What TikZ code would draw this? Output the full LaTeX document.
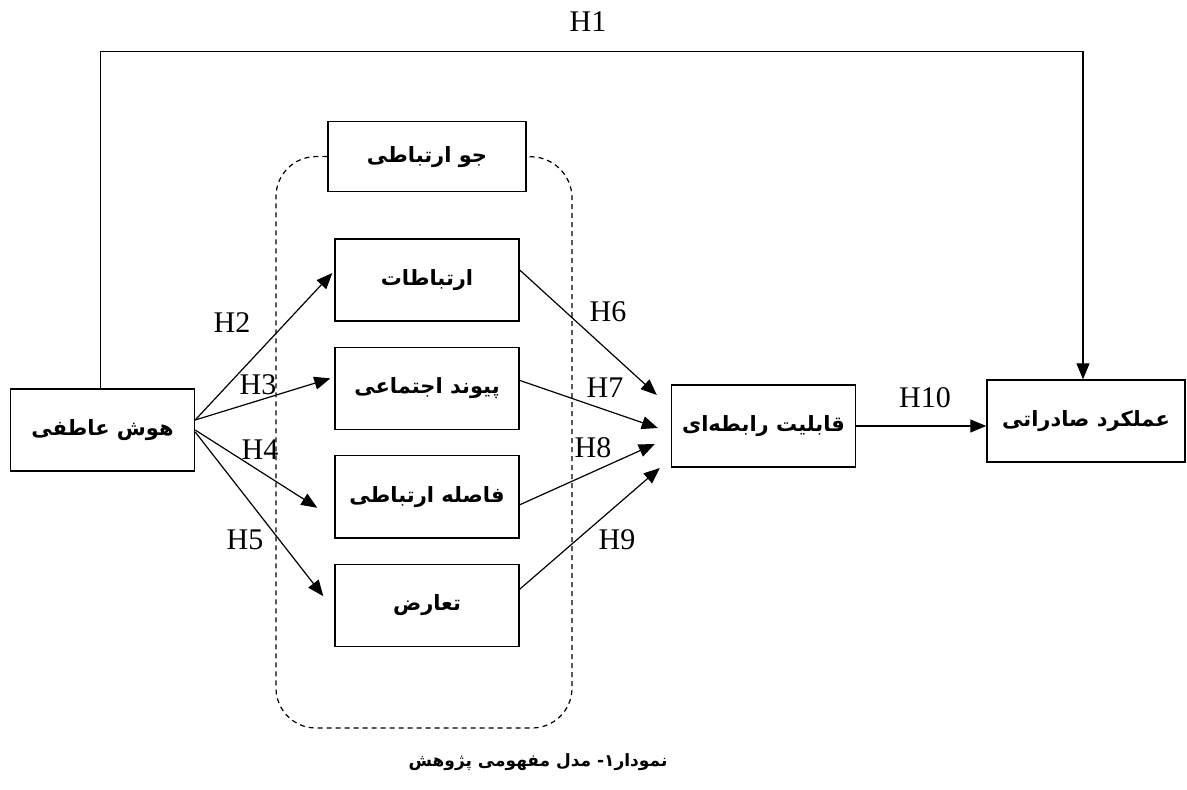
\documentclass[tikz,border=0pt]{standalone}
\usepackage{fontspec}
\setmainfont{Liberation Serif}
\newfontfamily\farsi[Script=Arabic]{DejaVu Sans}
\TeXXeTstate=1
\usetikzlibrary{positioning,arrows.meta}
\newcommand{\fa}[1]{{\farsi\bfseries\beginR #1\endR}}

\begin{document}
\begin{tikzpicture}[x=0.5pt, y=-0.5pt, node distance=12.5pt,
  box/.style={draw, line width=0.7pt, align=center, inner sep=0pt, minimum width=92pt, minimum height=41pt, font=\fontsize{10.5}{13}\selectfont},
  arrow/.style={-{Triangle[length=8pt,width=6.5pt]}, line width=0.6pt},
  hyp/.style={font=\fontsize{15}{18}\selectfont},
  frame/.style={dash pattern=on 2.5pt off 2pt, line width=0.6pt, rounded corners=20pt}]
\useasboundingbox (0,0) rectangle (1187,790);
\node[box](emo) at (102.5,430){\fa{هوش عاطفی}};
\node[box](comm) at (427,280){\fa{ارتباطات}};
\node[box,below=of comm](bond){\fa{پیوند اجتماعی}};
\node[box,below=of bond](dist){\fa{فاصله ارتباطی}};
\node[box,below=of dist](confl){\fa{تعارض}};
\node[box,above=23pt of comm,minimum width=99pt,minimum height=35pt](clim){\fa{جو ارتباطی}};
\node[box](rel) at (763.5,426){\fa{قابلیت رابطه‌ای}};
\node[box,minimum width=99pt](perf) at (1086,421){\fa{عملکرد صادراتی}};
% dashed frame of the communication climate
\draw[frame] (clim.west) -| (276,728) -| (572,158) -- (clim.east);
% H1
\draw[arrow] ([xshift=-1pt]emo.north) -- ++(0,-337) -| ([xshift=-1.5pt]perf.north);
\node[hyp](h1) at (588,22){H1};
% H2 - H5
\draw[arrow] ([yshift=5pt]emo.east) -- ([xshift=-1pt,yshift=3.5pt]comm.west);
\draw[arrow] ([yshift=5pt]emo.east) -- ([xshift=-2pt,yshift=5pt]bond.west);
\draw[arrow] ([yshift=0pt]emo.east) -- ([xshift=-8.5pt,yshift=-5.5pt]dist.west);
\draw[arrow] ([yshift=-1pt]emo.east) -- ([xshift=-5.5pt,yshift=4.5pt]confl.west);
\node[hyp](h2) at (232,323){H2};
\node[hyp](h3) at (258,385){H3};
\node[hyp](h4) at (260,450){H4};
\node[hyp](h5) at (245,540){H5};
% H6 - H9
\draw[arrow] ([yshift=5pt]comm.east) -- ([xshift=-7pt,yshift=15.5pt]rel.west);
\draw[arrow] ([yshift=4pt]bond.east) -- ([xshift=-6.5pt,yshift=-1pt]rel.west);
\draw[arrow] ([yshift=-4pt]dist.east) -- ([xshift=-8pt,yshift=-9pt]rel.west);
\draw[arrow] ([yshift=8pt]confl.east) -- ([xshift=-5.5pt,yshift=-21pt]rel.west);
\node[hyp](h6) at (608,312){H6};
\node[hyp](h7) at (605,388){H7};
\node[hyp](h8) at (593,448){H8};
\node[hyp](h9) at (617,540){H9};
% H10
\draw[arrow] (rel.east) -- (rel.east -| perf.west);
\node[hyp](h10) at (925,398){H10};
% caption
\node[font=\fontsize{8.5}{10}\selectfont](cap) at (538,762){\fa{نمودار۱- مدل مفهومی پژوهش}};
\end{tikzpicture}
\end{document}
